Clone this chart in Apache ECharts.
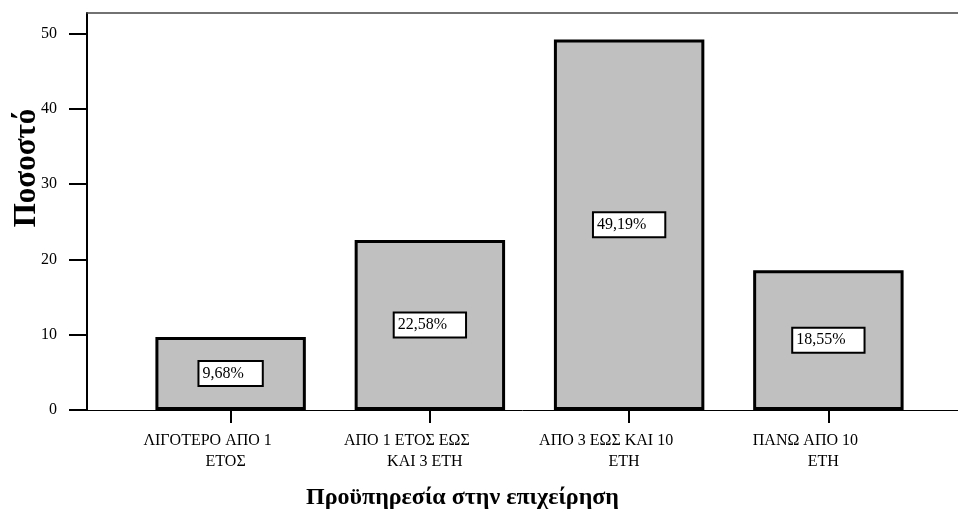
<!DOCTYPE html>
<html>
<head>
<meta charset="utf-8">
<script src="https://cdn.jsdelivr.net/npm/echarts@6/dist/echarts.min.js"></script>
<style>
  html, body { margin: 0; padding: 0; background: #ffffff; }
  #chart { width: 958px; height: 511px; }
</style>
</head>
<body>
<div id="chart"></div>
<script>
// Work experience groups (two-line labels)
const categories = [
  'ΛΙΓΟΤΕΡΟ ΑΠΟ 1\nΕΤΟΣ',
  'ΑΠΟ 1 ΕΤΟΣ ΕΩΣ\nΚΑΙ 3 ΕΤΗ',
  'ΑΠΟ 3 ΕΩΣ ΚΑΙ 10\nΕΤΗ',
  'ΠΑΝΩ ΑΠΟ 10\nΕΤΗ'
];
// Percentage of respondents per group
const percentages = [9.68, 22.58, 49.19, 18.55];
// Y axis tick values
const yTicks = [0, 10, 20, 30, 40, 50];

const serif = '"Liberation Serif", "Times New Roman", serif';

const chart = echarts.init(document.getElementById('chart'), null, { renderer: 'canvas' });

chart.setOption({
  backgroundColor: '#ffffff',
  animation: false,
  grid: [
    { left: 131, right: 30, top: 13, bottom: 101, outerBoundsMode: 'none', containLabel: false },
    { left: 87, right: 0, top: 13, bottom: 101, outerBoundsMode: 'none', containLabel: false }
  ],
  xAxis: [
    {
      type: 'category',
      gridIndex: 0,
      data: categories,
      axisLine: { show: false },
      axisTick: { show: true, alignWithLabel: true, length: 13, lineStyle: { color: '#000', width: 2 } },
      axisLabel: {
        interval: 0,
        margin: 20,
        formatter: function (v) {
          const parts = v.split('\n');
          return '{a|' + parts[0] + '}\n{b|' + parts[1] + '}';
        },
        rich: {
          a: { fontFamily: serif, fontSize: 16, color: '#000', lineHeight: 21, padding: [0, 46, 0, 0] },
          b: { fontFamily: serif, fontSize: 16, color: '#000', lineHeight: 21, padding: [0, 10, 0, 0] }
        }
      },
      name: 'Προϋπηρεσία στην επιχείρηση',
      nameLocation: 'middle',
      nameGap: 76,
      nameMoveOverlap: false,
      nameTextStyle: {
        fontFamily: serif, fontSize: 24, fontWeight: 'bold', color: '#000',
        padding: [0, 134, 0, 0]
      }
    },
    {
      type: 'value',
      gridIndex: 1,
      position: 'bottom',
      min: 0, max: 1,
      axisLine: { show: true, lineStyle: { color: '#000', width: 1 } },
      axisTick: { show: false },
      axisLabel: { show: false },
      splitLine: { show: false }
    },
    {
      type: 'value',
      gridIndex: 1,
      position: 'top',
      min: 0, max: 1,
      axisLine: { show: true, lineStyle: { color: '#444', width: 1.5 } },
      axisTick: { show: false },
      axisLabel: { show: false },
      splitLine: { show: false }
    }
  ],
  yAxis: [
    {
      type: 'value',
      gridIndex: 0,
      min: 0,
      max: 52.7,
      interval: 10,
      offset: 44,
      axisLine: { show: true, lineStyle: { color: '#000', width: 2 } },
      axisTick: { show: true, length: 18, customValues: yTicks, lineStyle: { color: '#000', width: 2 } },
      axisLabel: { customValues: yTicks, margin: 30, fontFamily: serif, fontSize: 16, color: '#000' },
      splitLine: { show: false },
      name: 'Ποσοστό',
      nameLocation: 'middle',
      nameGap: 45,
      nameMoveOverlap: false,
      nameTextStyle: {
        fontFamily: serif, fontSize: 31, fontWeight: 'bold', color: '#000',
        padding: [0, 0, 0, 87]
      }
    },
    {
      type: 'value',
      gridIndex: 1,
      min: 0, max: 1,
      show: false
    }
  ],
  series: [
    {
      type: 'bar',
      xAxisIndex: 0,
      yAxisIndex: 0,
      data: percentages,
      barWidth: '75.5%',
      itemStyle: { color: '#c0c0c0', borderColor: '#000', borderWidth: 3 },
      label: {
        show: true,
        position: 'inside',
        formatter: function (p) { return p.value.toFixed(2).replace('.', ',') + '%'; },
        fontFamily: serif,
        fontSize: 16,
        lineHeight: 17,
        color: '#000',
        backgroundColor: '#ffffff',
        borderColor: '#000',
        borderWidth: 2,
        padding: [3, 18, 3, 3]
      }
    }
  ]
});
</script>
</body>
</html>
